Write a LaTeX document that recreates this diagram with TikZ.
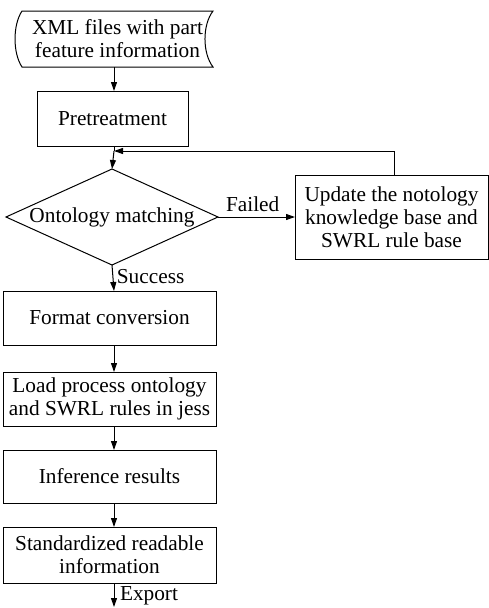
\documentclass[tikz,border=0pt]{standalone}
\usepackage{fontspec}
\setmainfont{Liberation Serif}
\usetikzlibrary{shapes.geometric,arrows.meta}
\begin{document}
\begin{tikzpicture}[x=1pt,y=-1pt,
  every node/.style={font=\fontsize{21.3}{23}\selectfont, align=center, inner sep=0pt, outer sep=0pt},
  box/.style={draw, line width=1pt, rectangle},
  conn/.style={line width=1pt, -{Triangle[length=9pt,width=6pt]}},
  plain/.style={line width=1pt}]
\useasboundingbox (0,0) rectangle (489,608);
\coordinate (spine) at (114,0);
% stored data shape
\node[minimum width=191pt, minimum height=56pt] (xml) at (117.5,39) {XML files with part\\feature information};
\draw[plain] (xml.north west) -- (xml.north east)
  .. controls (202.3,25) and (202.3,53) .. (xml.south east)
  -- (xml.south west)
  .. controls (12.7,53) and (12.7,25) .. (xml.north west) -- cycle;
\node[box, minimum width=151pt, minimum height=55pt] (pre) at (112.5,118.5) {Pretreatment};
\node[draw, line width=1pt, diamond, shape aspect=2.2, minimum width=212pt, minimum height=96pt] (dia) at (112,217) {Ontology matching};
\node[box, minimum width=193pt, minimum height=84pt] (upd) at (391.5,217) {Update the notology\\knowledge base and\\SWRL rule base};
\node[box, minimum width=213pt, minimum height=54pt] (fmt) at (109.5,318) {Format conversion};
\node[box, minimum width=213pt, minimum height=54pt] (load) at (109.5,399) {Load process ontology\\and SWRL rules in jess};
\node[box, minimum width=213pt, minimum height=53pt] (inf) at (109.5,476.5) {Inference results};
\node[box, minimum width=213pt, minimum height=56pt] (std) at (109.5,555) {Standardized readable\\information};
\coordinate (join) at (114,151);
\coordinate (out) at (114,607);
% connectors
\draw[conn] (xml.south -| spine) -- (pre.north -| spine);
\draw[plain] (pre.south -| spine) -- (join);
\draw[conn] (join) -- (dia.north);
\draw[conn] (dia.east) -- node[above=5pt, pos=0.45] (failed) {Failed} (upd.west);
\draw[conn] (upd.north -| 394,0) |- (join);
\draw[conn] (dia.south) -- node[right=4pt, pos=0.45] (succ) {Success} (fmt.north -| spine);
\draw[conn] (fmt.south -| spine) -- (load.north -| spine);
\draw[conn] (load.south -| spine) -- (inf.north -| spine);
\draw[conn] (inf.south -| spine) -- (std.north -| spine);
\draw[conn] (std.south -| spine) -- (out);
\node[anchor=west] (exp) at (120,596) {Export};
\end{tikzpicture}
\end{document}
